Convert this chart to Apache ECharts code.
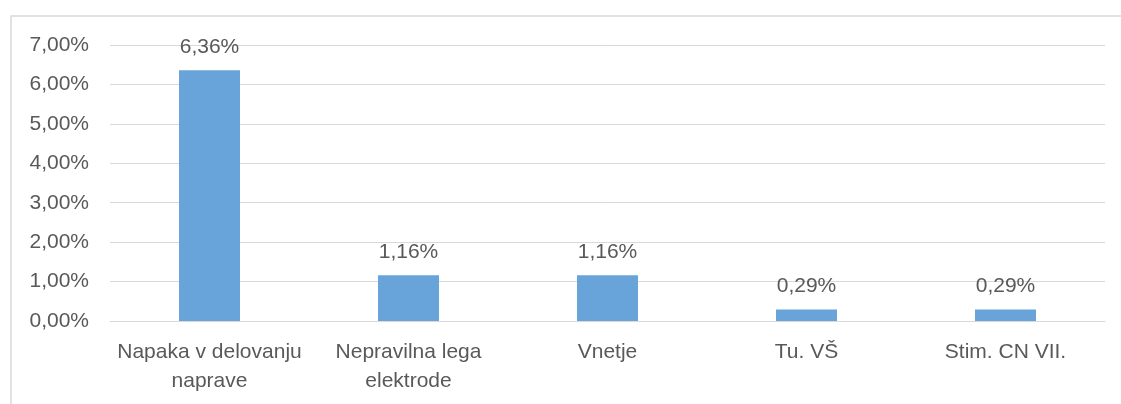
<!DOCTYPE html>
<html>
<head>
<meta charset="utf-8">
<style>
  html, body { margin: 0; padding: 0; background: #fff; }
  #chart { width: 1121px; height: 404px; }
</style>
<script src="https://cdn.jsdelivr.net/npm/echarts@6/dist/echarts.min.js"></script>
</head>
<body>
<div id="chart"></div>
<script>
// Share of complications by cause (percent)
const categories = ['Napaka v delovanju\nnaprave', 'Nepravilna lega\nelektrode', 'Vnetje', 'Tu. VŠ', 'Stim. CN VII.'];
const values = [6.36, 1.16, 1.16, 0.29, 0.29];
const yTicks = [0, 1, 2, 3, 4, 5, 6, 7];

const pct = (v, d) => v.toFixed(d).replace('.', ',') + '%';
const FONT = 'Liberation Sans';
const TEXT = '#595959';

const chart = echarts.init(document.getElementById('chart'), null, { renderer: 'canvas' });
chart.setOption({
  animation: false,
  backgroundColor: '#ffffff',
  graphic: [{
    type: 'rect',
    shape: { x: 11, y: 16, width: 1200, height: 500 },
    style: { fill: 'none', stroke: '#d9d9d9', lineWidth: 1.5 },
    silent: true
  }],
  grid: { left: 110, right: 16, top: 45, bottom: 83, containLabel: false },
  xAxis: {
    type: 'category',
    data: categories,
    axisLine: { show: true, lineStyle: { color: '#d9d9d9', width: 1 } },
    axisTick: { show: false },
    axisLabel: {
      interval: 0,
      color: TEXT,
      fontFamily: FONT,
      fontSize: 21,
      lineHeight: 29,
      margin: 17
    }
  },
  yAxis: {
    type: 'value',
    min: yTicks[0],
    max: yTicks[yTicks.length - 1],
    interval: 1,
    axisLine: { show: false },
    axisTick: { show: false },
    splitLine: { lineStyle: { color: '#d9d9d9', width: 1 } },
    axisLabel: {
      color: TEXT,
      fontFamily: FONT,
      fontSize: 21,
      margin: 21,
      formatter: v => pct(v, 2)
    }
  },
  series: [{
    type: 'bar',
    data: values,
    barWidth: 61,
    itemStyle: { color: '#68a4da' },
    label: {
      show: true,
      position: 'top',
      distance: 13,
      color: TEXT,
      fontFamily: FONT,
      fontSize: 21,
      formatter: p => pct(p.value, 2)
    }
  }]
});
</script>
</body>
</html>
